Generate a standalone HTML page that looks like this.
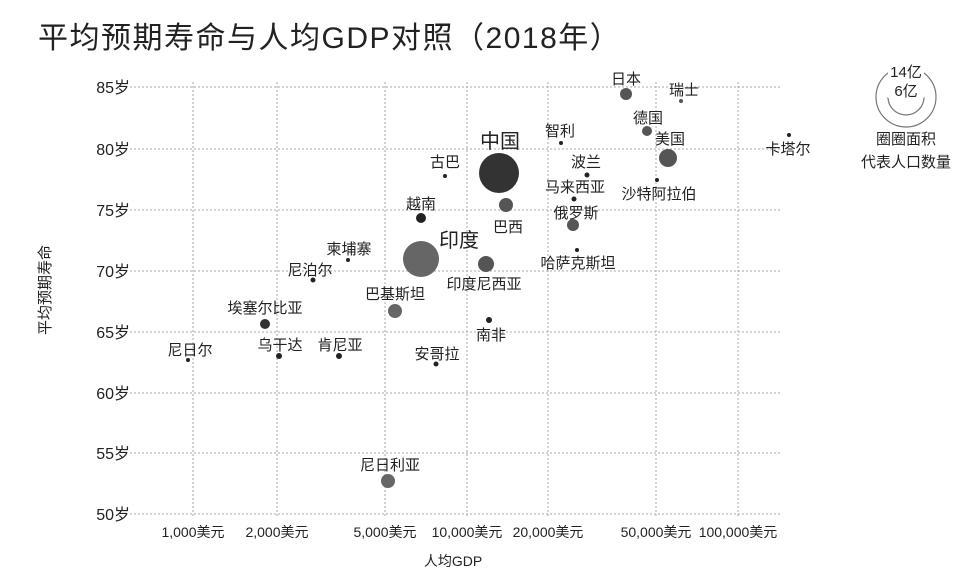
<!DOCTYPE html>
<html><head><meta charset="utf-8"><style>
html,body{margin:0;padding:0;background:#fff;}
svg{display:block;font-family:"Liberation Sans","Noto Sans CJK SC",sans-serif;}
</style></head><body>
<svg width="979" height="583" viewBox="0 0 979 583" xmlns="http://www.w3.org/2000/svg">
<text x="38" y="48" font-size="30" letter-spacing="1.5" fill="#222">平均预期寿命与人均GDP对照（2018年）</text>
<g stroke="#aaa" stroke-width="1" stroke-dasharray="2,2" fill="none">
<line x1="130" y1="87" x2="782" y2="87"/>
<line x1="130" y1="149" x2="782" y2="149"/>
<line x1="130" y1="210" x2="782" y2="210"/>
<line x1="130" y1="271" x2="782" y2="271"/>
<line x1="130" y1="332" x2="782" y2="332"/>
<line x1="130" y1="393" x2="782" y2="393"/>
<line x1="130" y1="453" x2="782" y2="453"/>
<line x1="130" y1="514" x2="782" y2="514"/>
<line x1="193" y1="82" x2="193" y2="518"/>
<line x1="277" y1="82" x2="277" y2="518"/>
<line x1="385" y1="82" x2="385" y2="518"/>
<line x1="467" y1="82" x2="467" y2="518"/>
<line x1="548" y1="82" x2="548" y2="518"/>
<line x1="656" y1="82" x2="656" y2="518"/>
<line x1="738" y1="82" x2="738" y2="518"/>
</g>
<g font-size="16" fill="#222" text-anchor="end">
<text x="130" y="93">85岁</text>
<text x="130" y="155">80岁</text>
<text x="130" y="216">75岁</text>
<text x="130" y="277">70岁</text>
<text x="130" y="338">65岁</text>
<text x="130" y="399">60岁</text>
<text x="130" y="459">55岁</text>
<text x="130" y="520">50岁</text>
</g>
<g font-size="14" fill="#222" text-anchor="middle">
<text x="193" y="537">1,000美元</text>
<text x="277" y="537">2,000美元</text>
<text x="385" y="537">5,000美元</text>
<text x="467" y="537">10,000美元</text>
<text x="548" y="537">20,000美元</text>
<text x="656" y="537">50,000美元</text>
<text x="738" y="537">100,000美元</text>
<text x="453" y="566">人均GDP</text>
</g>
<text transform="translate(50,290) rotate(-90)" font-size="15" fill="#222" text-anchor="middle">平均预期寿命</text>
<g fill="#555">
<circle cx="626" cy="94" r="6"/>
<circle cx="681" cy="101" r="2"/>
<circle cx="647" cy="131" r="5"/>
<circle cx="668" cy="158" r="9"/>
<circle cx="789" cy="135" r="2" fill="#222"/>
<circle cx="561" cy="143" r="2" fill="#222"/>
<circle cx="499" cy="173" r="20" fill="#333"/>
<circle cx="445" cy="176" r="2" fill="#222"/>
<circle cx="587" cy="175" r="2.5" fill="#222"/>
<circle cx="574" cy="199" r="2.5" fill="#222"/>
<circle cx="657" cy="180" r="2" fill="#222"/>
<circle cx="506" cy="205" r="7"/>
<circle cx="573" cy="225" r="6"/>
<circle cx="421" cy="218" r="5" fill="#222"/>
<circle cx="577" cy="250" r="2" fill="#222"/>
<circle cx="421" cy="259" r="18" fill="#666"/>
<circle cx="348" cy="260" r="2" fill="#222"/>
<circle cx="313" cy="280" r="2.5" fill="#222"/>
<circle cx="486" cy="264" r="8"/>
<circle cx="395" cy="311" r="7" fill="#666"/>
<circle cx="265" cy="324" r="5" fill="#333"/>
<circle cx="489" cy="320" r="3" fill="#222"/>
<circle cx="188" cy="360" r="2" fill="#222"/>
<circle cx="279" cy="356" r="3" fill="#222"/>
<circle cx="339" cy="356" r="3" fill="#222"/>
<circle cx="436" cy="364" r="2.5" fill="#222"/>
<circle cx="388" cy="481" r="7" fill="#666"/>
</g>
<g font-size="15" fill="#222" text-anchor="middle">
<text x="626" y="84">日本</text>
<text x="684" y="95">瑞士</text>
<text x="648" y="123">德国</text>
<text x="670" y="144">美国</text>
<text x="788" y="154">卡塔尔</text>
<text x="560" y="136">智利</text>
<text x="500" y="148" font-size="20">中国</text>
<text x="445" y="167">古巴</text>
<text x="586" y="167">波兰</text>
<text x="575" y="192">马来西亚</text>
<text x="659" y="199">沙特阿拉伯</text>
<text x="508" y="232">巴西</text>
<text x="576" y="218">俄罗斯</text>
<text x="421" y="209">越南</text>
<text x="578" y="268">哈萨克斯坦</text>
<text x="459" y="247" font-size="20">印度</text>
<text x="349" y="254">柬埔寨</text>
<text x="310" y="275">尼泊尔</text>
<text x="484" y="289">印度尼西亚</text>
<text x="395" y="299">巴基斯坦</text>
<text x="265" y="313">埃塞尔比亚</text>
<text x="491" y="340">南非</text>
<text x="190" y="355">尼日尔</text>
<text x="280" y="350">乌干达</text>
<text x="340" y="350">肯尼亚</text>
<text x="437" y="359">安哥拉</text>
<text x="390" y="470">尼日利亚</text>
</g>
<g fill="none" stroke="#777" stroke-width="1.2">
<circle cx="906" cy="97" r="30"/>
<path d="M888 97 A18 18 0 0 0 924 97"/>
</g>
<rect x="888" y="62" width="36" height="36" fill="#fff"/>
<g font-size="15" fill="#222" text-anchor="middle">
<text x="906" y="77">14亿</text>
<text x="906" y="96">6亿</text>
<text x="906" y="144">圈圈面积</text>
<text x="906" y="167">代表人口数量</text>
</g>
</svg>
</body></html>
